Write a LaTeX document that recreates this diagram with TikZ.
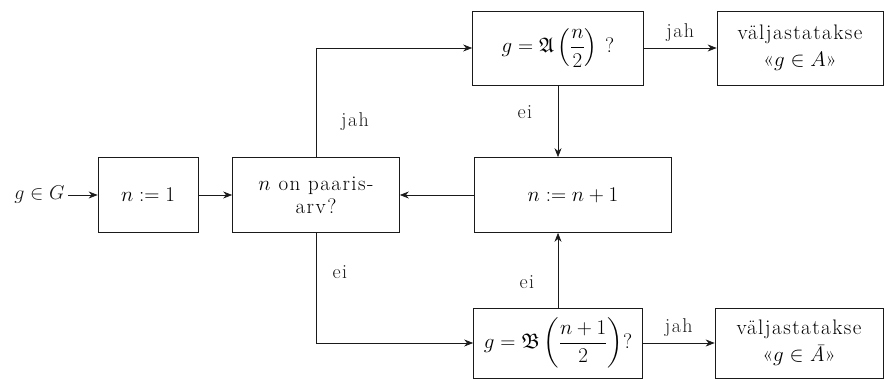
\RequirePackage{fix-cm}
\documentclass[tikz,border=0pt]{standalone}
\usepackage{amsmath,amssymb}
\usepackage{fontspec}
\setmainfont{Latin Modern Roman}[LetterSpace=7]
\usepackage{xcolor}
\usetikzlibrary{arrows.meta,positioning}
\definecolor{ink}{HTML}{1A1A1A}
\tikzset{
  flowbox/.style={draw=ink,line width=0.7pt,align=center,inner sep=4pt,
                  font=\fontsize{21}{23}\selectfont},
  flowarr/.style={-{Stealth[length=9pt,width=7pt]},line width=0.7pt,color=ink},
  lbl/.style={font=\fontsize{20}{22}\selectfont,text=ink}
}

\begin{document}
\begin{tikzpicture}[x=1pt,y=-1pt]
  \useasboundingbox (0,0) rectangle (885,379);
  % input and start value
  \node[lbl,anchor=east] (inp) at (68,195) {$g\in G$};
  \node[flowbox,minimum width=100pt,minimum height=75pt] (one) at (148,195) {$n := 1$};
  % the main row
  \node[flowbox,minimum width=167pt,minimum height=75pt] (even) at (316,195)
    {$n$ on paaris-\\arv?};
  \node[flowbox,minimum width=197pt,minimum height=75pt] (incr) at (573,195)
    {$n := n+1$};
  % the two tests
  \node[flowbox,minimum width=171pt,minimum height=74pt] (testA) at (558,48)
    {$g=\mathfrak{A}\left(\dfrac{n}{2}\right)$ ?};
  \node[flowbox,minimum width=169pt,minimum height=70pt] (testB) at (558,343)
    {$g=\mathfrak{B}\left(\dfrac{n+1}{2}\right)$?};
  % outputs
  \node[flowbox,minimum width=166pt,minimum height=74pt] (outA) at (800,48)
    {väljastatakse\\[4pt]«$g\in A$»};
  \node[flowbox,minimum width=168pt,minimum height=70pt] (outB) at (799,343)
    {väljastatakse\\[4pt]«$g\in\text{\itshape Ā}$»};
  % connectors
  \draw[flowarr] (inp) -- (one);
  \draw[flowarr] (one) -- (even);
  \draw[flowarr] (incr) -- (even);
  \draw[flowarr] (even.north) |- (testA.west);
  \draw[flowarr] (even.south) |- (testB.west);
  \draw[flowarr] (testA.south) -- (testA.south |- incr.north);
  \draw[flowarr] (testB.north) -- (testB.north |- incr.south);
  \draw[flowarr] (testA) -- (outA) node[lbl,midway,above=3pt] (jahA) {jah};
  \draw[flowarr] (testB) -- (outB) node[lbl,midway,above=3pt] (jahB) {jah};
  % branch labels
  \node[lbl] (jahE) at (355,122) {jah};
  \node[lbl] (eiE) at (340,272) {ei};
  \node[lbl] (eiA) at (525,112) {ei};
  \node[lbl] (eiB) at (527,282) {ei};
\end{tikzpicture}
\end{document}
